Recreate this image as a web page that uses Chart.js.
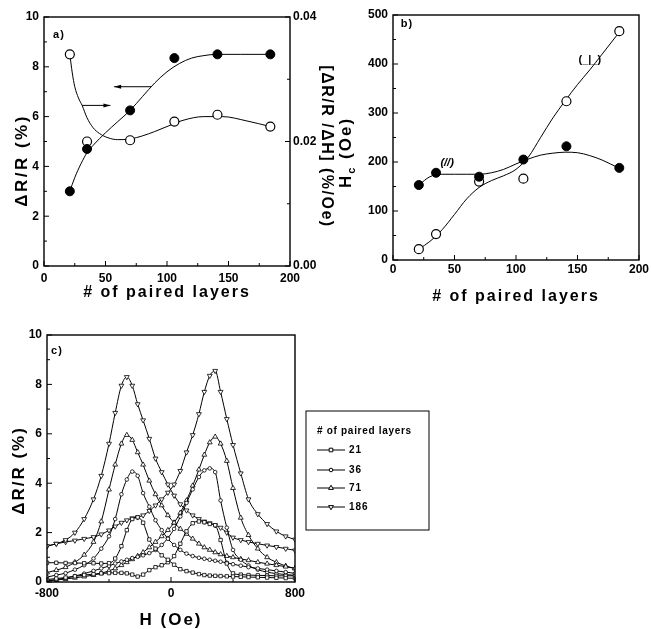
<!DOCTYPE html>
<html>
<head>
<meta charset="utf-8">
<script src="https://cdn.jsdelivr.net/npm/chart.js@4.4.1/dist/chart.umd.min.js"></script>
<style>
  body { margin: 0; background: #fff; }
  #fig { position: relative; width: 651px; height: 629px; }
  #fig canvas { position: absolute; left: 0; top: 0; }
</style>
</head>
<body>
<div id="fig">
  <canvas id="panelA" width="651" height="629"></canvas>
  <canvas id="panelB" width="651" height="629"></canvas>
  <canvas id="panelC" width="651" height="629"></canvas>
</div>
<script>
const FONT = "'Liberation Sans', Arial, sans-serif";
Chart.defaults.font.family = FONT;
Chart.defaults.color = '#000';

// (a), (b): measured points against number of paired layers
const layers = [21, 35, 70, 106, 141, 184];
const mrRatio = [3.0, 4.7, 6.25, 8.35, 8.5, 8.5];                 // ΔR/R (%)
const mrSlope = [0.034, 0.020, 0.0202, 0.0232, 0.0243, 0.0224];   // [ΔR/R/ΔH] (%/Oe)
const hcParallel = [153, 178, 170, 205, 232, 188];
const hcPerp = [22, 53, 160, 166, 324, 467];

// guide curves drawn through the points
const mrFitLayers = [21, 25, 30, 35, 40, 50, 60, 70, 80, 90, 100, 110, 120, 130, 140, 160, 184];
const mrRatioFit = [3.0, 3.55, 4.1, 4.55, 4.85, 5.35, 5.8, 6.25, 6.8, 7.35, 7.8, 8.13, 8.35, 8.45, 8.5, 8.5, 8.5];
const slopeFitLayers = [21, 23, 25, 28, 31, 35, 40, 45, 52, 60, 70, 80, 90, 100, 113, 130, 145, 165, 184];
const mrSlopeFit = [0.034, 0.031, 0.0288, 0.027, 0.0258, 0.0238, 0.0222, 0.0213, 0.0206, 0.0203, 0.0204, 0.0209, 0.0216, 0.0224, 0.0234, 0.024, 0.024, 0.0233, 0.0224];
const hcFitLayers = [21, 30, 40, 50, 60, 70, 80, 90, 100, 110, 120, 130, 140, 150, 160, 170, 184];
const hcParallelFit = [153, 170, 175, 175, 175, 175, 178, 185, 196, 206, 214, 218, 220, 219, 213, 204, 187];
const hcPerpFit = [22, 38, 62, 93, 125, 148, 162, 172, 185, 210, 250, 290, 325, 358, 388, 420, 465];

// (c): MR loops, ΔR/R (%) against H (Oe)
const fieldOe = [-800, -740, -680, -620, -560, -500, -450, -400, -360, -320, -285, -250, -215, -180, -140, -100, -60, -20,
                 20, 60, 100, 140, 180, 215, 250, 285, 320, 360, 400, 450, 500, 560, 620, 680, 740, 800];
const mr21Down = [0.78, 0.78, 0.77, 0.77, 0.76, 0.76, 0.75, 0.76, 0.95, 1.45, 2.1, 2.55, 2.62, 2.4, 1.72, 1.35, 1.08, 0.9,
                  0.7, 0.52, 0.44, 0.38, 0.32, 0.28, 0.26, 0.25, 0.24, 0.23, 0.22, 0.21, 0.2, 0.19, 0.18, 0.17, 0.16, 0.15];
const mr21Up = [0.1, 0.14, 0.18, 0.23, 0.28, 0.32, 0.35, 0.36, 0.37, 0.37, 0.35, 0.3, 0.22, 0.3, 0.48, 0.6, 0.68, 0.8,
                1.05, 1.55, 2.05, 2.38, 2.45, 2.42, 2.35, 2.3, 1.7, 0.75, 0.35, 0.3, 0.28, 0.27, 0.26, 0.25, 0.25, 0.25];
const mr36Down = [0.2, 0.28, 0.36, 0.5, 0.68, 0.95, 1.35, 1.85, 2.55, 3.55, 4.15, 4.47, 4.3, 3.6, 3.05, 2.5, 2.1, 1.75,
                  1.5, 1.3, 1.15, 1.05, 0.98, 0.94, 0.9, 0.86, 0.82, 0.78, 0.72, 0.66, 0.6, 0.55, 0.5, 0.45, 0.4, 0.35];
const mr36Up = [0.05, 0.1, 0.16, 0.24, 0.34, 0.45, 0.55, 0.65, 0.75, 0.83, 0.9, 0.97, 1.02, 1.08, 1.17, 1.3, 1.5, 1.78,
                2.15, 2.65, 3.2, 3.75, 4.25, 4.52, 4.6, 4.45, 3.3, 2.2, 1.3, 0.9, 0.67, 0.5, 0.4, 0.34, 0.3, 0.27];
const mr71Down = [0.38, 0.48, 0.6, 0.8, 1.1, 1.62, 2.45, 3.74, 4.75, 5.6, 5.95, 5.75, 5.25, 4.75, 4.1, 3.55, 3.1, 2.7,
                  2.4, 2.15, 1.95, 1.75, 1.55, 1.4, 1.3, 1.2, 1.12, 1.05, 1.0, 0.93, 0.88, 0.8, 0.74, 0.68, 0.62, 0.55];
const mr71Up = [0.05, 0.08, 0.12, 0.17, 0.22, 0.28, 0.35, 0.45, 0.55, 0.68, 0.8, 0.92, 1.05, 1.2, 1.4, 1.62, 1.85, 2.1,
                2.4, 2.8, 3.3, 3.9, 4.55, 5.15, 5.65, 5.88, 5.6, 4.9, 3.8, 2.6, 1.9, 1.35, 1.0, 0.8, 0.65, 0.55];
const mr186Down = [1.45, 1.55, 1.7, 2.0, 2.55, 3.35, 4.3, 5.6, 6.85, 7.95, 8.3, 7.95, 7.2, 6.55, 5.8, 5.0, 4.45, 3.95,
                   3.5, 3.15, 2.9, 2.7, 2.55, 2.45, 2.38, 2.3, 2.2, 2.0, 1.8, 1.7, 1.62, 1.55, 1.48, 1.42, 1.35, 1.28];
const mr186Up = [1.45, 1.55, 1.62, 1.68, 1.75, 1.82, 1.93, 2.09, 2.25, 2.4, 2.5, 2.58, 2.62, 2.7, 2.88, 3.1, 3.35, 3.62,
                 3.95, 4.5, 5.25, 5.95, 6.8, 7.7, 8.35, 8.55, 7.7, 6.6, 5.55, 4.4, 3.35, 2.75, 2.35, 2.05, 1.85, 1.72];

const pts = (xs, ys) => xs.map((x, i) => ({ x, y: ys[i] }));

function axis(extra, size) {
  return Object.assign({
    type: 'linear',
    grid: { display: false, drawTicks: false },
    border: { display: false },
    afterFit: s => { if (s.isHorizontal()) s.height = size; else s.width = size; }
  }, extra);
}
const tickFont = { size: 12, weight: 'bold' };

function label(ctx, text, x, y, size, opt = {}) {
  ctx.save();
  ctx.translate(x, y);
  if (opt.rot) ctx.rotate(opt.rot);
  ctx.font = (opt.italic ? 'italic ' : '') + 'bold ' + size + 'px ' + FONT;
  ctx.letterSpacing = (opt.spacing || 0) + 'px';
  ctx.textAlign = opt.align || 'center';
  ctx.textBaseline = 'middle';
  ctx.fillStyle = '#000';
  ctx.fillText(text, 0, 0);
  ctx.restore();
}

function frame(chart) {
  const { ctx, chartArea: a } = chart;
  ctx.save();
  ctx.strokeStyle = '#000';
  ctx.lineWidth = 1.4;
  ctx.strokeRect(a.left, a.top, a.right - a.left, a.bottom - a.top);
  ctx.lineWidth = 1;
  for (const scale of Object.values(chart.scales)) {
    const vals = scale.ticks.map(t => t.value);
    vals.forEach((v, i) => {
      const marks = [[v, 5]];
      if (i < vals.length - 1) marks.push([(v + vals[i + 1]) / 2, 3]);
      for (const [mv, len] of marks) {
        const p = scale.getPixelForValue(mv);
        ctx.beginPath();
        if (scale.position === 'bottom') { ctx.moveTo(p, a.bottom); ctx.lineTo(p, a.bottom - len); }
        else if (scale.position === 'left') { ctx.moveTo(a.left, p); ctx.lineTo(a.left + len, p); }
        else { ctx.moveTo(a.right, p); ctx.lineTo(a.right - len, p); }
        ctx.stroke();
      }
    });
  }
  ctx.restore();
}

function arrow(ctx, x1, y1, x2, y2) {
  ctx.save();
  ctx.strokeStyle = '#000';
  ctx.fillStyle = '#000';
  ctx.lineWidth = 1;
  ctx.beginPath(); ctx.moveTo(x1, y1); ctx.lineTo(x2, y2); ctx.stroke();
  const ang = Math.atan2(y2 - y1, x2 - x1), c = Math.cos(ang), s = Math.sin(ang);
  ctx.beginPath();
  ctx.moveTo(x2, y2);
  ctx.lineTo(x2 - 7 * c + 2 * s, y2 - 7 * s - 2 * c);
  ctx.lineTo(x2 - 7 * c - 2 * s, y2 - 7 * s + 2 * c);
  ctx.closePath();
  ctx.fill();
  ctx.restore();
}

const lineStyle = { showLine: true, borderColor: '#000', borderWidth: 1, pointRadius: 0, cubicInterpolationMode: 'monotone' };
const filled = { pointRadius: 4.5, pointBackgroundColor: '#000', pointBorderColor: '#000', pointBorderWidth: 1 };
const hollow = { pointRadius: 4.5, pointBackgroundColor: '#fff', pointBorderColor: '#000', pointBorderWidth: 1.2 };
const base = { responsive: false, animation: false, devicePixelRatio: 1, plugins: { legend: { display: false }, tooltip: { enabled: false } } };

// ---------- panel a ----------
const mrArrows = [[87, 7.2, 57, 7.2], [31, 6.45, 54, 6.45]];
new Chart(document.getElementById('panelA'), {
  type: 'scatter',
  data: {
    datasets: [
      { data: pts(layers, mrRatio), yAxisID: 'y', ...filled },
      { data: pts(layers, mrSlope), yAxisID: 'y2', ...hollow },
      { data: pts(mrFitLayers, mrRatioFit), yAxisID: 'y', ...lineStyle },
      { data: pts(slopeFitLayers, mrSlopeFit), yAxisID: 'y2', ...lineStyle }
    ]
  },
  options: {
    ...base,
    layout: { padding: { left: 0, top: 17, right: 325, bottom: 319 } },
    scales: {
      x: axis({ position: 'bottom', min: 0, max: 200, ticks: { font: tickFont, padding: 5, stepSize: 50 } }, 44),
      y: axis({ position: 'left', min: 0, max: 10, ticks: { font: tickFont, padding: 5, stepSize: 2 } }, 44),
      y2: axis({ position: 'right', min: 0, max: 0.04, ticks: { font: tickFont, padding: 3, stepSize: 0.02, callback: v => v.toFixed(2) } }, 36)
    }
  },
  plugins: [{
    id: 'decorA',
    afterDraw(chart) {
      const { ctx, chartArea: a, scales } = chart;
      frame(chart);
      const mid = (a.top + a.bottom) / 2;
      label(ctx, 'ΔR/R (%)', a.left - 22, mid + 19, 17, { rot: -Math.PI / 2, spacing: 2.5 });
      label(ctx, '[ΔR/R /ΔH] (%/Oe)', a.right + 36, mid + 5, 16, { rot: Math.PI / 2, spacing: 1.5 });
      label(ctx, '# of paired layers', (a.left + a.right) / 2, a.bottom + 27, 16, { spacing: 2 });
      label(ctx, 'a)', a.left + 15, a.top + 18, 11, { spacing: 1 });
      for (const [x1, y1, x2, y2] of mrArrows) {
        arrow(ctx, scales.x.getPixelForValue(x1), scales.y.getPixelForValue(y1), scales.x.getPixelForValue(x2), scales.y.getPixelForValue(y2));
      }
    }
  }]
});

// ---------- panel b ----------
new Chart(document.getElementById('panelB'), {
  type: 'scatter',
  data: {
    datasets: [
      { data: pts(layers, hcParallel), ...filled },
      { data: pts(layers, hcPerp), ...hollow },
      { data: pts(hcFitLayers, hcParallelFit), ...lineStyle },
      { data: pts(hcFitLayers, hcPerpFit), ...lineStyle }
    ]
  },
  options: {
    ...base,
    layout: { padding: { left: 353, top: 15, right: 11, bottom: 325 } },
    scales: {
      x: axis({ position: 'bottom', min: 0, max: 200, ticks: { font: tickFont, padding: 2, stepSize: 50 } }, 44),
      y: axis({ position: 'left', min: 0, max: 500, ticks: { font: tickFont, padding: 5, stepSize: 100 } }, 40)
    }
  },
  plugins: [{
    id: 'decorB',
    afterDraw(chart) {
      const { ctx, chartArea: a, scales } = chart;
      frame(chart);
      // y title with subscript c
      ctx.save();
      ctx.translate(a.left - 48, (a.top + a.bottom) / 2 + 15);
      ctx.rotate(-Math.PI / 2);
      ctx.fillStyle = '#000';
      ctx.textBaseline = 'alphabetic';
      ctx.letterSpacing = '2px';
      const big = 'bold 17px ' + FONT, small = 'bold 11px ' + FONT;
      ctx.font = big; const wH = ctx.measureText('H').width, wRest = ctx.measureText(' (Oe)').width;
      ctx.font = small; const wc = ctx.measureText('c').width;
      const x0 = -(wH + wc + wRest) / 2;
      ctx.font = big; ctx.fillText('H', x0, 6);
      ctx.font = small; ctx.fillText('c', x0 + wH, 10);
      ctx.font = big; ctx.fillText(' (Oe)', x0 + wH + wc, 6);
      ctx.restore();
      label(ctx, '# of paired layers', (a.left + a.right) / 2, a.bottom + 37, 16, { spacing: 2 });
      label(ctx, 'b)', a.left + 14, a.top + 9, 11, { spacing: 1 });
      label(ctx, '(//)', scales.x.getPixelForValue(44), scales.y.getPixelForValue(198), 11, { italic: true });
      label(ctx, '(_|_)', scales.x.getPixelForValue(160), scales.y.getPixelForValue(408), 11);
    }
  }]
});

// ---------- panel c ----------
const loopSeries = [
  { name: '21', down: mr21Down, up: mr21Up, shape: 'rect', radius: 2.4 },
  { name: '36', down: mr36Down, up: mr36Up, shape: 'circle', radius: 1.8 },
  { name: '71', down: mr71Down, up: mr71Up, shape: 'triangle', radius: 2.8 },
  { name: '186', down: mr186Down, up: mr186Up, shape: 'triangleDown', radius: 2.8 }
];
const loopDatasets = loopSeries.flatMap(s => [s.down, s.up].map(vals => ({
  label: s.name,
  data: pts(fieldOe, vals),
  showLine: true,
  borderColor: '#000',
  borderWidth: 1,
  cubicInterpolationMode: 'monotone',
  pointStyle: s.shape === 'triangleDown' ? 'triangle' : s.shape,
  pointRotation: s.shape === 'triangleDown' ? 180 : 0,
  pointRadius: s.radius,
  pointBackgroundColor: '#fff',
  pointBorderColor: '#000',
  pointBorderWidth: 0.8
})));

function marker(ctx, shape, x, y, r) {
  ctx.beginPath();
  if (shape === 'rect') ctx.rect(x - r * 0.75, y - r * 0.75, r * 1.5, r * 1.5);
  else if (shape === 'circle') ctx.arc(x, y, r, 0, Math.PI * 2);
  else {
    const s = shape === 'triangleDown' ? -1 : 1;
    ctx.moveTo(x, y - s * r);
    ctx.lineTo(x + r * 0.87, y + s * r * 0.5);
    ctx.lineTo(x - r * 0.87, y + s * r * 0.5);
    ctx.closePath();
  }
  ctx.fillStyle = '#fff';
  ctx.fill();
  ctx.stroke();
}

new Chart(document.getElementById('panelC'), {
  type: 'scatter',
  data: { datasets: loopDatasets },
  options: {
    ...base,
    layout: { padding: { left: 0, top: 335, right: 356, bottom: 17 } },
    scales: {
      x: axis({ position: 'bottom', min: -800, max: 800, ticks: { font: tickFont, padding: 4, stepSize: 800 } }, 30),
      y: axis({ position: 'left', min: 0, max: 10, ticks: { font: tickFont, padding: 5, stepSize: 2 } }, 47)
    }
  },
  plugins: [{
    id: 'decorC',
    afterDraw(chart) {
      const { ctx, chartArea: a } = chart;
      frame(chart);
      label(ctx, 'ΔR/R (%)', a.left - 28, (a.top + a.bottom) / 2 + 12, 17, { rot: -Math.PI / 2, spacing: 2 });
      label(ctx, 'H (Oe)', (a.left + a.right) / 2, a.bottom + 38, 17, { spacing: 2 });
      label(ctx, 'c)', a.left + 10, a.top + 16, 11, { spacing: 1 });
      // legend box
      const bx = a.right + 11, by = a.top + 76;
      ctx.save();
      ctx.strokeStyle = '#000';
      ctx.lineWidth = 1;
      ctx.strokeRect(bx, by, 123, 119);
      label(ctx, '# of paired layers', bx + 11, by + 20, 10, { align: 'left', spacing: 0.7 });
      const rows = [39, 59, 77, 96];
      loopSeries.forEach((s, i) => {
        const y = by + rows[i];
        ctx.beginPath(); ctx.moveTo(bx + 11, y); ctx.lineTo(bx + 39, y); ctx.stroke();
        marker(ctx, s.shape, bx + 25, y, s.radius);
        label(ctx, s.name, bx + 43, y, 10, { align: 'left', spacing: 1 });
      });
      ctx.restore();
    }
  }]
});
</script>
</body>
</html>
